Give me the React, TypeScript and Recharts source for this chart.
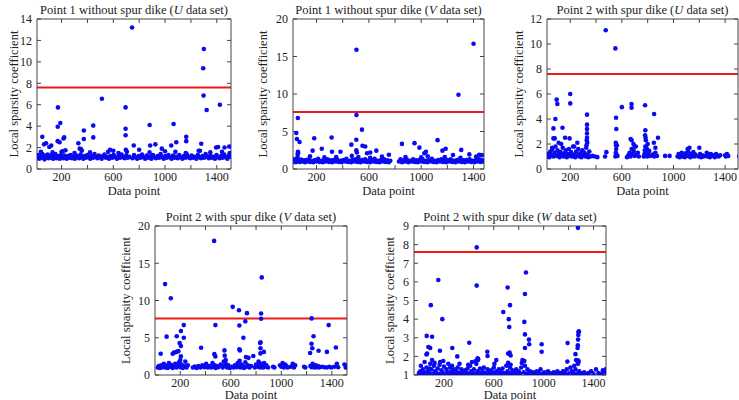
import React from "react";
import {
  ScatterChart,
  Scatter,
  XAxis,
  YAxis,
  ReferenceLine,
} from "recharts";

type Pair = [number, number];

const FONT = '"Liberation Serif", "Times New Roman", serif';
const DOT = "#0a0af0";
const FRAME = "#444";
const THRESHOLD = 7.6;

const dataTicks = [200, 400, 600, 800, 1000, 1200, 1400];

// Point 1 without spur dike, U
const p1Band: Pair[] = [
  [12, 1.1], [20, 1.3], [28, 0.95], [35, 1.2], [44, 1.05], [52, 1.4], [60, 1.15], [68, 0.9],
  [76, 1.25], [85, 1.1], [93, 1.35], [101, 1.0], [110, 1.2], [118, 1.05], [127, 1.3], [135, 0.95],
  [143, 1.15], [152, 1.4], [160, 1.0], [168, 1.2], [177, 1.1], [186, 0.95], [195, 1.3], [204, 1.15],
  [213, 1.0], [222, 1.25], [230, 1.1], [240, 0.95], [250, 1.2], [260, 1.05], [270, 1.3], [281, 1.0],
  [292, 1.15], [303, 0.95], [314, 1.25], [325, 1.1], [336, 1.0], [347, 1.35], [358, 1.15], [368, 0.95],
  [378, 1.2], [389, 1.05], [400, 1.3], [411, 1.1], [422, 0.95], [433, 1.2], [444, 1.05], [455, 1.4],
  [466, 1.15], [477, 1.0], [488, 1.25], [499, 1.1], [510, 0.95], [521, 1.2], [532, 1.35], [543, 1.05],
  [555, 1.15], [567, 0.95], [579, 1.2], [591, 1.05], [603, 1.3], [615, 1.1], [628, 0.95], [640, 1.2],
  [652, 1.05], [664, 1.35], [676, 1.1], [688, 1.0], [700, 1.25], [712, 1.05], [724, 1.15], [748, 1.0],
  [760, 1.3], [772, 1.1], [785, 0.95], [797, 1.2], [810, 1.05], [822, 1.35], [834, 1.1], [846, 0.95],
  [858, 1.25], [870, 1.05], [882, 1.15], [894, 0.95], [906, 1.3], [918, 1.1], [930, 1.0], [942, 1.2],
  [954, 1.05], [966, 1.4], [978, 1.1], [990, 0.95], [1002, 1.2], [1014, 1.05], [1026, 1.3], [1038, 1.1],
  [1050, 0.95], [1062, 1.25], [1074, 1.05], [1086, 1.15], [1098, 1.0], [1110, 1.3], [1122, 1.1], [1134, 0.95],
  [1146, 1.2], [1158, 1.05], [1170, 1.35], [1182, 1.1], [1194, 1.0], [1206, 1.25], [1218, 1.05], [1230, 1.15],
  [1242, 0.95], [1254, 1.3], [1266, 1.1], [1278, 1.0], [1290, 1.2], [1302, 1.05], [1314, 1.4], [1326, 1.15],
  [1338, 1.0], [1350, 1.25], [1362, 1.05], [1374, 1.15], [1386, 0.95], [1398, 1.3], [1410, 1.1], [1422, 1.0],
  [1434, 1.2], [1446, 1.05], [1458, 1.35], [1470, 1.1], [1482, 0.95], [1494, 1.25], [1504, 1.15],
  [40, 1.6], [130, 1.55], [210, 1.65], [300, 1.5], [356, 1.7], [420, 1.55], [560, 1.6], [640, 1.5],
  [705, 1.6], [880, 1.55], [1000, 1.65], [1080, 1.6], [1160, 1.5], [1260, 1.7], [1350, 1.55], [1440, 1.6],
  [1500, 1.5],
];
const p1Spikes: Pair[] = [
  [745, 13.2], [1300, 11.2], [1295, 9.4], [1298, 6.85], [1322, 5.5], [1424, 6.0], [512, 6.55], [172, 5.75],
  [695, 5.75], [170, 3.95], [190, 4.3], [695, 3.75], [695, 3.15], [697, 1.8], [372, 3.6], [372, 2.8],
  [445, 4.05], [445, 2.95], [51, 3.0], [65, 2.3], [80, 2.4], [120, 2.2], [170, 2.6], [185, 2.5],
  [215, 2.85], [220, 2.95], [330, 2.4], [340, 1.9], [352, 1.85], [758, 2.2], [800, 1.8], [881, 4.1],
  [885, 2.2], [925, 2.3], [975, 1.9], [1048, 2.2], [1066, 4.2], [1087, 2.5], [1164, 3.0], [1164, 2.6],
  [1280, 2.35], [1270, 1.7], [1395, 2.0], [1410, 2.05], [1460, 2.0], [1497, 2.1], [200, 1.6], [575, 1.8],
  [600, 1.7], [105, 2.05], [230, 1.75],
];

// Point 1 without spur dike, V
const p2Band: Pair[] = [
  [25, 1.0], [33, 1.3], [42, 0.9], [62, 1.1], [72, 0.95], [82, 1.25], [92, 1.0], [102, 1.15],
  [112, 0.9], [122, 1.2], [132, 1.0], [142, 1.3], [152, 0.95], [162, 1.1], [175, 0.9], [188, 1.2],
  [200, 1.0], [212, 1.35], [224, 0.95], [236, 1.1], [248, 0.9], [260, 1.2], [272, 1.0], [284, 1.3],
  [296, 0.95], [308, 1.15], [320, 0.9], [332, 1.2], [344, 1.0], [356, 1.3], [368, 0.95], [380, 1.1],
  [392, 0.9], [404, 1.2], [416, 1.0], [428, 1.35], [440, 0.95], [452, 1.1], [464, 0.9], [476, 1.2],
  [488, 1.0], [500, 1.3], [512, 0.95], [524, 1.15], [536, 0.9], [548, 1.2], [560, 1.0], [572, 1.3],
  [584, 0.95], [596, 1.1], [608, 0.9], [620, 1.2], [632, 1.0], [644, 1.35], [656, 0.95], [668, 1.1],
  [680, 0.9], [692, 1.2], [704, 1.0], [716, 1.3], [728, 0.95], [740, 1.15], [752, 0.9], [764, 1.1],
  [830, 1.0], [842, 1.3], [854, 0.9], [866, 1.15], [878, 1.0], [890, 1.25], [902, 0.9], [914, 1.1],
  [926, 1.0], [938, 1.3], [950, 0.95], [962, 1.15], [974, 0.9], [986, 1.2], [998, 1.0], [1010, 1.3],
  [1022, 0.95], [1034, 1.1], [1046, 0.9], [1058, 1.2], [1070, 1.0], [1082, 1.35], [1094, 0.95], [1106, 1.1],
  [1118, 0.9], [1130, 1.2], [1142, 1.0], [1154, 1.3], [1166, 0.95], [1178, 1.15], [1190, 0.9], [1202, 1.2],
  [1214, 1.0], [1226, 1.3], [1238, 0.95], [1250, 1.1], [1262, 0.9], [1274, 1.2], [1286, 1.0], [1298, 1.3],
  [1310, 0.95], [1322, 1.15], [1334, 0.9], [1346, 1.2], [1358, 1.0], [1370, 1.3], [1382, 0.95], [1394, 1.1],
  [1406, 0.9], [1418, 1.2], [1430, 1.0], [1442, 1.3], [1454, 0.95], [1466, 1.15], [1476, 1.0],
  [55, 1.6], [150, 1.7], [260, 1.55], [350, 1.6], [470, 1.75], [520, 1.6], [610, 1.5], [700, 1.65],
  [880, 1.6], [1000, 1.55], [1050, 1.7], [1180, 1.6], [1300, 1.5], [1420, 1.65],
];
const p2Spikes: Pair[] = [
  [505, 15.9], [1400, 16.7], [1285, 9.9], [505, 7.2], [57, 6.8], [45, 4.8], [50, 4.0], [70, 3.6],
  [55, 2.0], [58, 2.3], [60, 2.15], [182, 4.1], [170, 2.45], [240, 2.7], [315, 4.2], [318, 2.3],
  [383, 2.3], [466, 3.25], [504, 3.9], [504, 2.5], [508, 2.2], [547, 5.25], [551, 3.1], [572, 3.0],
  [586, 2.1], [610, 2.2], [657, 2.45], [753, 1.9], [853, 3.35], [949, 3.45], [986, 2.85], [1024, 2.1],
  [1036, 2.3], [1125, 3.85], [1162, 2.45], [1187, 2.7], [1243, 1.87], [1306, 2.55], [1368, 1.95], [1443, 1.9],
  [1463, 1.85],
];

// Point 2 with spur dike, U
const p3Band: Pair[] = [
  [22, 1.0], [30, 1.2], [38, 0.95], [46, 1.4], [54, 1.1], [62, 1.6], [70, 1.0], [78, 1.3],
  [86, 1.8], [94, 1.05], [102, 1.5], [110, 1.2], [118, 0.95], [126, 1.35], [134, 1.1], [142, 1.7],
  [150, 1.0], [158, 1.25], [166, 1.5], [174, 0.95], [182, 1.2], [190, 1.6], [198, 1.05], [206, 1.35],
  [214, 1.0], [222, 1.8], [230, 1.15], [238, 0.95], [246, 1.4], [254, 1.1], [262, 1.6], [270, 1.0],
  [278, 1.25], [286, 0.95], [294, 1.5], [302, 1.1], [310, 1.3], [318, 1.0], [324, 1.7], [334, 1.15],
  [340, 0.95], [348, 1.4], [356, 1.0], [372, 1.05], [392, 1.0], [410, 0.95],
  [470, 1.0], [480, 1.35], [550, 1.0], [553, 1.3], [556, 1.6], [558, 1.15], [562, 1.9], [566, 1.05],
  [640, 0.95], [650, 1.1], [660, 1.3], [668, 1.0], [676, 1.6], [684, 1.2], [692, 1.45], [700, 1.05],
  [708, 1.8], [716, 1.15], [724, 1.3], [732, 1.0], [770, 1.0], [775, 1.2], [778, 1.5], [782, 1.8],
  [785, 1.1], [788, 1.35], [792, 1.65], [796, 1.0], [800, 2.0], [804, 1.25], [812, 1.45], [820, 1.05],
  [840, 1.15], [850, 1.0], [860, 1.3], [872, 1.05], [935, 1.05], [970, 1.05],
  [1032, 1.0], [1040, 1.2], [1048, 0.95], [1056, 1.1], [1064, 1.3], [1072, 1.0], [1080, 1.15], [1088, 0.95],
  [1096, 1.25], [1104, 1.05], [1110, 1.6], [1114, 1.4], [1118, 1.1], [1124, 1.7], [1130, 0.95], [1138, 1.2],
  [1146, 1.05], [1154, 1.35], [1162, 1.0], [1170, 1.15], [1192, 1.0], [1200, 1.7], [1206, 1.2], [1214, 0.95],
  [1222, 1.1], [1232, 1.0], [1250, 1.05], [1258, 1.3], [1266, 1.0], [1274, 1.15], [1282, 0.95], [1290, 1.2],
  [1300, 1.05], [1310, 1.1], [1320, 0.95], [1330, 1.2], [1340, 1.05], [1350, 1.0], [1362, 1.1],
  [1400, 1.1], [1406, 1.0], [1414, 1.2], [1424, 1.05], [1510, 1.0],
];
const p3Spikes: Pair[] = [
  [95, 5.55], [100, 5.2], [200, 6.0], [200, 5.25], [85, 4.0], [70, 3.25], [140, 3.3], [70, 2.45],
  [80, 2.45], [160, 2.5], [195, 2.45], [255, 2.1], [60, 1.7], [110, 2.1], [130, 2.0], [230, 1.8],
  [330, 4.35], [330, 3.55], [330, 3.2], [330, 2.85], [330, 2.5], [328, 2.3], [332, 2.1], [326, 1.9],
  [475, 11.1], [550, 9.65], [555, 4.1], [557, 3.2], [553, 2.1], [555, 1.9], [600, 4.95], [675, 5.2],
  [675, 4.9], [780, 5.1], [850, 4.4], [782, 3.1], [780, 2.7], [784, 2.5], [786, 2.3], [880, 2.5],
  [668, 2.4], [676, 2.3], [690, 2.0], [700, 1.8], [848, 2.1], [860, 1.7],
];

// Point 2 with spur dike, V
const p4Band: Pair[] = [
  [22, 1.0], [30, 1.2], [40, 0.95], [50, 1.3], [60, 1.05], [70, 1.5], [80, 1.0], [90, 1.25],
  [100, 0.95], [110, 1.6], [120, 1.1], [130, 1.35], [140, 0.95], [150, 1.2], [160, 1.5], [170, 1.0],
  [180, 1.3], [190, 1.7], [200, 1.05], [210, 1.4], [220, 0.95], [230, 1.2], [240, 1.8], [250, 1.0],
  [260, 1.3], [300, 1.0], [315, 1.15], [330, 0.95], [345, 1.2], [360, 1.0], [375, 1.3], [390, 1.05],
  [405, 1.5], [418, 1.0], [430, 1.2], [445, 1.0], [455, 1.6], [465, 1.1], [472, 1.3], [480, 0.95],
  [490, 1.2], [500, 1.05], [520, 1.4], [535, 1.0], [545, 1.8], [552, 1.2], [560, 1.5], [570, 1.0],
  [580, 1.3], [592, 0.95], [605, 1.1], [620, 1.0], [632, 1.3], [645, 1.05], [655, 1.6], [665, 1.15],
  [675, 1.0], [685, 1.4], [695, 1.2], [705, 0.95], [715, 1.7], [725, 1.1], [735, 1.3], [748, 1.0],
  [760, 1.2], [790, 1.0], [800, 1.4], [810, 1.1], [820, 1.8], [826, 1.3], [832, 1.0], [840, 1.5],
  [848, 1.2], [856, 1.0], [864, 1.6], [872, 1.1], [882, 1.3], [895, 1.0], [935, 1.1], [945, 1.0],
  [990, 1.3], [1000, 1.1], [1010, 1.6], [1020, 1.0], [1030, 1.4], [1040, 1.2], [1050, 1.0], [1075, 1.1],
  [1090, 1.5], [1100, 1.0], [1110, 1.3], [1180, 1.1], [1190, 1.0], [1230, 1.2], [1240, 1.05], [1248, 1.5],
  [1256, 1.2], [1264, 1.0], [1272, 1.3], [1280, 1.05], [1290, 1.2], [1300, 1.0], [1320, 1.1], [1340, 1.05],
  [1360, 1.0], [1380, 1.1], [1395, 1.0], [1420, 1.1], [1440, 1.5], [1450, 1.05], [1500, 1.4], [1510, 1.0],
  [1515, 1.2],
];
const p4Spikes: Pair[] = [
  [468, 18.0], [845, 13.1], [80, 12.2], [125, 10.3], [615, 9.15], [665, 8.7], [728, 8.3], [840, 8.25],
  [840, 7.55], [1240, 7.6], [715, 7.2], [668, 6.65], [478, 6.7], [228, 6.7], [1375, 6.7], [205, 5.9],
  [92, 5.15], [172, 5.2], [228, 5.0], [700, 5.0], [1255, 5.2], [195, 4.3], [205, 3.9], [832, 4.3],
  [836, 4.4], [835, 3.6], [1239, 4.2], [1245, 3.6], [45, 2.85], [140, 2.85], [150, 3.0], [170, 3.1],
  [185, 3.2], [205, 2.5], [365, 3.65], [470, 2.8], [478, 2.5], [550, 3.3], [552, 2.6], [668, 3.45],
  [672, 3.3], [778, 2.55], [720, 2.4], [740, 2.3], [862, 3.1], [835, 2.9], [1228, 2.95], [1295, 3.25],
  [1361, 3.1], [1432, 3.7], [200, 2.0], [560, 2.0], [670, 1.9],
];

// Point 2 with spur dike, W
const p5Band: Pair[] = [
  [0, 1.1], [10, 1.2], [20, 1.05], [30, 1.3], [40, 1.15], [50, 1.05], [60, 1.4], [70, 1.2],
  [80, 1.1], [90, 1.6], [100, 1.3], [110, 1.05], [120, 1.5], [130, 1.2], [140, 1.1], [150, 1.35],
  [160, 1.05], [170, 1.7], [180, 1.25], [190, 1.1], [200, 1.45], [210, 1.05], [220, 1.3], [230, 1.15],
  [240, 1.05], [250, 1.4], [260, 1.2], [270, 1.1], [280, 1.3], [290, 1.05], [300, 1.2], [310, 1.4],
  [320, 1.1], [330, 1.05], [340, 1.3], [350, 1.15], [360, 1.05], [370, 1.25], [380, 1.1], [390, 1.35],
  [400, 1.05], [410, 1.5], [420, 1.2], [430, 1.1], [440, 1.3], [450, 1.05], [460, 1.6], [470, 1.2],
  [480, 1.1], [490, 1.35], [500, 1.05], [510, 1.2], [520, 1.4], [530, 1.1], [540, 1.05], [550, 1.3],
  [560, 1.15], [570, 1.05], [580, 1.25], [590, 1.1], [600, 1.4], [610, 1.05], [620, 1.2], [630, 1.1],
  [640, 1.3], [650, 1.05], [660, 1.15], [670, 1.35], [680, 1.1], [690, 1.05], [700, 1.5], [710, 1.2],
  [720, 1.1], [730, 1.4], [740, 1.05], [750, 1.25], [760, 1.15], [770, 1.05], [780, 1.3], [790, 1.1],
  [800, 1.2], [810, 1.05], [820, 1.4], [830, 1.8], [840, 1.15], [850, 1.5], [860, 1.05], [870, 1.3],
  [880, 1.1], [890, 1.2], [900, 1.05], [915, 1.15], [930, 1.05], [945, 1.2], [960, 1.1], [975, 1.3],
  [990, 1.05], [1005, 1.15], [1020, 1.05], [1035, 1.2], [1050, 1.1], [1065, 1.05], [1080, 1.15], [1095, 1.05],
  [1110, 1.2], [1125, 1.1], [1140, 1.05], [1155, 1.2], [1170, 1.1], [1185, 1.3], [1200, 1.05], [1215, 1.4],
  [1225, 1.2], [1235, 1.1], [1245, 1.5], [1255, 1.3], [1265, 1.05], [1275, 1.6], [1285, 1.2], [1295, 1.1],
  [1310, 1.05], [1325, 1.15], [1340, 1.05], [1360, 1.1], [1380, 1.2], [1400, 1.05], [1420, 1.3], [1440, 1.1],
  [1460, 1.05], [1475, 1.25], [1490, 1.15], [1498, 1.3],
  [15, 1.5], [45, 1.7], [85, 1.35], [105, 1.8], [125, 1.65], [165, 1.55], [195, 1.75], [235, 1.6],
  [265, 1.5], [325, 1.6], [395, 1.55], [425, 1.7], [455, 1.75], [475, 1.85], [605, 1.6], [715, 1.65],
  [735, 1.55], [825, 1.65], [845, 1.75], [1260, 1.8], [1280, 1.7],
];
const p5Spikes: Pair[] = [
  [463, 7.85], [1275, 8.9], [155, 6.1], [463, 5.8], [711, 5.7], [858, 6.5], [850, 5.35], [95, 4.75],
  [730, 4.75], [676, 4.38], [187, 4.0], [720, 4.0], [724, 3.58], [845, 3.85], [850, 3.18], [882, 2.9],
  [884, 2.65], [850, 2.45], [62, 3.1], [105, 3.05], [75, 2.5], [90, 2.45], [60, 2.1], [65, 2.15],
  [168, 2.3], [267, 2.45], [307, 2.0], [403, 2.73], [470, 1.9], [472, 1.8], [548, 2.25], [550, 2.02],
  [620, 1.8], [715, 2.15], [727, 2.2], [735, 2.05], [984, 2.65], [984, 2.25], [1192, 2.72], [1190, 1.72],
  [1255, 2.12], [1272, 2.45], [1274, 2.6], [1276, 2.9], [1278, 3.15], [1280, 3.3], [1282, 3.35], [1270, 1.75],
  [1278, 1.78],
];

type Box = { x: number; y: number; w: number; h: number };
type Rect = { l: number; r: number; t: number; b: number };

type PanelProps = {
  box: Box;
  plot: Rect;
  point: string;
  set: string;
  xDomain: [number, number];
  yDomain: [number, number];
  yTicks: number[];
  labelGap: number;
  xLabelDrop: number;
  points: Pair[];
};

const blank = () => <g />;
const textStyle = { fontFamily: FONT };
const tickText = { fill: "#222", fontSize: 12, fontFamily: "Liberation Serif", style: textStyle };
const line = { stroke: FRAME };

// small filled dot, like a MATLAB '.' marker
const Dot = (props: any) => {
  const { cx, cy } = props;
  if (cx == null || cy == null) return <g />;
  return <circle cx={cx} cy={cy} r={2.3} fill={DOT} />;
};

const Panel = ({
  box,
  plot,
  point,
  set,
  xDomain,
  yDomain,
  yTicks,
  labelGap,
  xLabelDrop,
  points,
}: PanelProps) => {
  const l = plot.l - box.x;
  const r = plot.r - box.x;
  const t = plot.t - box.y;
  const b = plot.b - box.y;
  const data = points.map(([x, y]) => ({ x, y }));
  const midX = (l + r) / 2;
  const midY = (t + b) / 2;

  return (
    <div style={{ position: "absolute", left: box.x, top: box.y, fontFamily: FONT }}>
      <ScatterChart
        width={box.w}
        height={box.h}
        margin={{ top: t - 1, right: box.w - r - 1, bottom: box.h - b - 20, left: 0 }}
      >
        <XAxis
          xAxisId="b"
          type="number"
          dataKey="x"
          domain={xDomain}
          allowDataOverflow
          ticks={dataTicks}
          interval={0}
          height={20}
          tickSize={-4}
          tickMargin={7}
          tickFormatter={(v: number) => (v % 400 === 200 ? String(v) : "")}
          tick={tickText}
          axisLine={line}
          tickLine={line}
        />
        <XAxis
          xAxisId="t"
          orientation="top"
          type="number"
          dataKey="x"
          domain={xDomain}
          allowDataOverflow
          ticks={dataTicks}
          interval={0}
          height={1}
          tickSize={-4}
          tick={blank}
          axisLine={line}
          tickLine={line}
        />
        <YAxis
          yAxisId="l"
          type="number"
          dataKey="y"
          domain={yDomain}
          allowDataOverflow
          ticks={yTicks}
          interval={0}
          width={l}
          tickSize={-4}
          tickMargin={9}
          tick={tickText}
          axisLine={line}
          tickLine={line}
        />
        <YAxis
          yAxisId="r"
          orientation="right"
          type="number"
          dataKey="y"
          domain={yDomain}
          allowDataOverflow
          ticks={yTicks}
          interval={0}
          width={1}
          tickSize={-4}
          tick={blank}
          axisLine={line}
          tickLine={line}
        />
        <ReferenceLine xAxisId="b" yAxisId="l" y={THRESHOLD} stroke="#f01818" strokeWidth={2} />
        <Scatter
          xAxisId="b"
          yAxisId="l"
          data={data}
          fill={DOT}
          shape={<Dot />}
          isAnimationActive={false}
        />
        <text x={midX} y={t - 5} textAnchor="middle" fontSize={12.5} fill="#222" style={textStyle}>
          {point} (<tspan fontStyle="italic">{set}</tspan> data set)
        </text>
        <text
          x={midX}
          y={b + xLabelDrop}
          textAnchor="middle"
          fontSize={12.5}
          fill="#222"
          style={textStyle}
        >
          Data point
        </text>
        <text
          transform="rotate(-90)"
          x={-midY}
          y={l - labelGap + 4.5}
          textAnchor="middle"
          fontSize={12.5}
          fill="#222"
          style={textStyle}
        >
          Local sparsity coefficient
        </text>
      </ScatterChart>
    </div>
  );
};

const App = () => (
  <div
    style={{
      position: "absolute",
      left: 0,
      top: 0,
      width: 739,
      height: 400,
      background: "#fff",
      overflow: "hidden",
    }}
  >
    <Panel
      box={{ x: 0, y: 0, w: 245, h: 200 }}
      plot={{ l: 37, r: 231, t: 19, b: 169 }}
      point="Point 1 without spur dike"
      set="U"
      xDomain={[10, 1510]}
      yDomain={[0, 14]}
      yTicks={[0, 2, 4, 6, 8, 10, 12, 14]}
      labelGap={24}
      xLabelDrop={26}
      points={[...p1Band, ...p1Spikes]}
    />
    <Panel
      box={{ x: 245, y: 0, w: 245, h: 200 }}
      plot={{ l: 293, r: 484, t: 19, b: 169 }}
      point="Point 1 without spur dike"
      set="V"
      xDomain={[20, 1480]}
      yDomain={[0, 20]}
      yTicks={[0, 5, 10, 15, 20]}
      labelGap={31}
      xLabelDrop={26}
      points={[...p2Band, ...p2Spikes]}
    />
    <Panel
      box={{ x: 490, y: 0, w: 249, h: 200 }}
      plot={{ l: 547, r: 738, t: 19, b: 169 }}
      point="Point 2 with spur dike"
      set="U"
      xDomain={[20, 1500]}
      yDomain={[0, 12]}
      yTicks={[0, 2, 4, 6, 8, 10, 12]}
      labelGap={29}
      xLabelDrop={26}
      points={[...p3Band, ...p3Spikes]}
    />
    <Panel
      box={{ x: 118, y: 200, w: 250, h: 200 }}
      plot={{ l: 155, r: 347, t: 226, b: 375 }}
      point="Point 2 with spur dike"
      set="V"
      xDomain={[0, 1520]}
      yDomain={[0, 20]}
      yTicks={[0, 5, 10, 15, 20]}
      labelGap={30}
      xLabelDrop={23.5}
      points={[...p4Band, ...p4Spikes]}
    />
    <Panel
      box={{ x: 372, y: 200, w: 245, h: 200 }}
      plot={{ l: 414, r: 606, t: 226, b: 375 }}
      point="Point 2 with spur dike"
      set="W"
      xDomain={[-40, 1500]}
      yDomain={[1, 9]}
      yTicks={[1, 2, 3, 4, 5, 6, 7, 8, 9]}
      labelGap={25}
      xLabelDrop={23.5}
      points={[...p5Band, ...p5Spikes]}
    />
  </div>
);

export default App;
